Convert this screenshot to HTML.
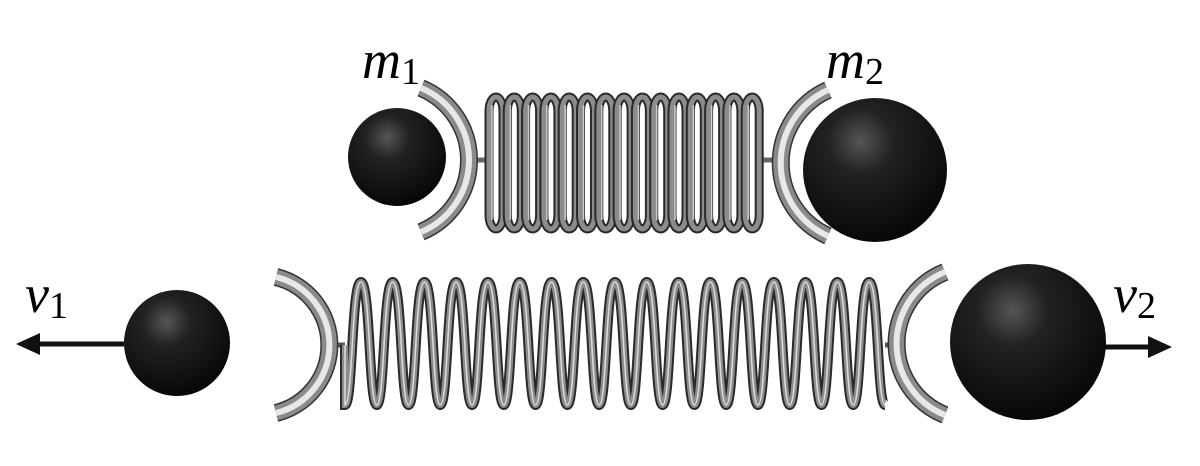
<!DOCTYPE html>
<html><head><meta charset="utf-8"><style>
html,body{margin:0;padding:0;background:#fff;}
svg{display:block}
text{font-family:"Liberation Serif",serif;font-style:italic;fill:#000}
</style></head><body>
<svg id="s" width="1200" height="466" viewBox="0 0 1200 466" xmlns="http://www.w3.org/2000/svg">
<defs>
<radialGradient id="ball" cx="0.4" cy="0.3" r="0.75">
<stop offset="0" stop-color="#555"/><stop offset="0.3" stop-color="#222"/><stop offset="1" stop-color="#050505"/>
</radialGradient>
</defs>
<g id="g"></g>
<text x="362" y="78" font-size="54">m<tspan font-size="38" font-style="normal" dy="6">1</tspan></text>
<text x="826" y="78" font-size="54">m<tspan font-size="38" font-style="normal" dy="6">2</tspan></text>
<text x="25" y="312" font-size="54">v<tspan font-size="38" font-style="normal" dy="6">1</tspan></text>
<text x="1113" y="312" font-size="54">v<tspan font-size="38" font-style="normal" dy="6">2</tspan></text>
</svg>
<script>
var g=document.getElementById('g'),h='';
function cup(x1,y1,x2,y2,r,sw){
 var d='M'+x1+' '+y1+' A'+r+' '+r+' 0 0 '+sw+' '+x2+' '+y2;
 h+='<path d="'+d+'" fill="none" stroke="#333" stroke-width="18"/>';
 h+='<path d="'+d+'" fill="none" stroke="#8a8a8a" stroke-width="15"/>';
 h+='<path d="'+d+'" fill="none" stroke="#e8e8e8" stroke-width="6"/>';
}
h+='<line x1="468" y1="160" x2="492" y2="160" stroke="#666" stroke-width="5"/>';
h+='<line x1="760" y1="160" x2="784" y2="160" stroke="#666" stroke-width="5"/>';
for(var i=0;i<15;i++){var x=496+i*18.3;
 h+='<rect x="'+(x-7)+'" y="97" width="14" height="132" rx="7" ry="14" fill="none" stroke="#2a2a2a" stroke-width="9"/>';
 h+='<rect x="'+(x-7)+'" y="97" width="14" height="132" rx="7" ry="14" fill="none" stroke="#8c8c8c" stroke-width="5"/>';
 h+='<line x1="'+(x-4)+'" y1="105" x2="'+(x-4)+'" y2="220" stroke="#ccc" stroke-width="1.5"/>';
}
var x0=345,w=(885-345)/17,d='M'+x0+' 345 L'+x0+' 405';
for(var i=0;i<17;i++){var a=x0+i*w;
 d+=' C'+(a+w*0.25)+' 405 '+(a+w*0.2)+' 282 '+(a+w*0.5)+' 282 C'+(a+w*0.8)+' 282 '+(a+w*0.75)+' 405 '+(a+w)+' 405';
}
h+='<line x1="330" y1="345" x2="345" y2="345" stroke="#555" stroke-width="5"/>';
h+='<line x1="885" y1="345" x2="897" y2="345" stroke="#555" stroke-width="5"/>';
h+='<path d="'+d+'" fill="none" stroke="#2a2a2a" stroke-width="10"/>';
h+='<path d="'+d+'" fill="none" stroke="#8c8c8c" stroke-width="6"/>';
h+='<path d="'+d+'" fill="none" stroke="#ddd" stroke-width="1.5"/>';
cup(421,88,421,232,78,1);
cup(828,90,828,236,80,0);
cup(276,277,276,413,70,1);
cup(945,272,945,415,77,0);
h+='<circle cx="397" cy="157" r="49" fill="url(#ball)"/>';
h+='<circle cx="875" cy="170" r="72" fill="url(#ball)"/>';
h+='<circle cx="177" cy="343" r="53" fill="url(#ball)"/>';
h+='<circle cx="1028" cy="342" r="78" fill="url(#ball)"/>';
h+='<line x1="124" y1="344" x2="32" y2="344" stroke="#111" stroke-width="5"/>';
h+='<polygon points="16,344 40,333 40,355" fill="#111"/>';
h+='<line x1="1105" y1="347" x2="1155" y2="347" stroke="#111" stroke-width="5"/>';
h+='<polygon points="1172,347 1148,336 1148,358" fill="#111"/>';
g.innerHTML=h;
</script>
</body></html>
